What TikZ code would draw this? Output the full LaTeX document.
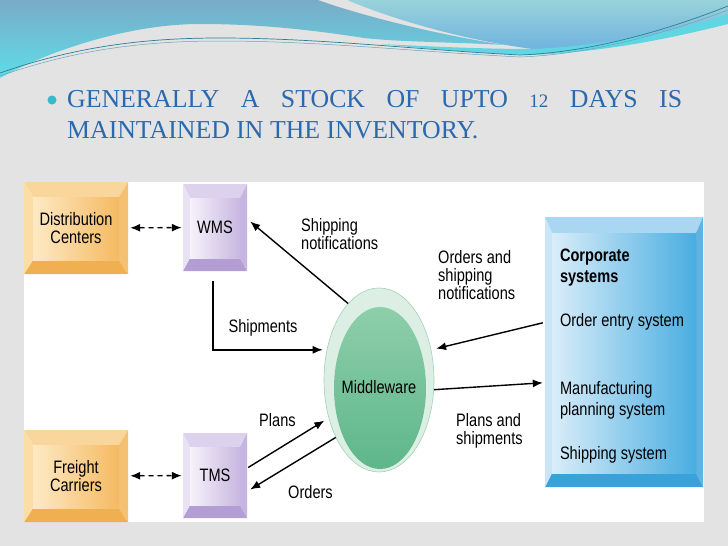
\documentclass[tikz,border=0pt]{standalone}
\usepackage{fontspec}
\setmainfont{Liberation Serif}
\newfontfamily\diagfont[FakeStretch=0.81]{Liberation Sans}
\usetikzlibrary{arrows.meta,calc,shapes.geometric}

\definecolor{bggray}{HTML}{E3E3E3}
\definecolor{titleblue}{HTML}{2B68AE}
\definecolor{bulletcyan}{HTML}{35BCCB}
\definecolor{waveblue}{HTML}{79ABC7}
\definecolor{wavecyan}{HTML}{5EDDE8}
\definecolor{wavelight}{HTML}{98D2DA}
\definecolor{wavedeep}{HTML}{6FB3DF}
\definecolor{waveline}{HTML}{2C7D98}
% keycap colours: top, left, right, bottom bevel, face low / high
\definecolor{dc-top}{HTML}{F9D69B}\definecolor{dc-left}{HTML}{FBDDA6}
\definecolor{dc-right}{HTML}{F4C172}\definecolor{dc-bot}{HTML}{F0B052}
\definecolor{dc-lo}{HTML}{FDE9C4}\definecolor{dc-hi}{HTML}{F5BA62}
\definecolor{sys-top}{HTML}{DCD2EE}\definecolor{sys-left}{HTML}{E8E2F4}
\definecolor{sys-right}{HTML}{C6B5E0}\definecolor{sys-bot}{HTML}{B49DD4}
\definecolor{sys-lo}{HTML}{F5F2FB}\definecolor{sys-hi}{HTML}{C8B7E0}
\definecolor{corp-top}{HTML}{A9D7F1}\definecolor{corp-left}{HTML}{C9E5F6}
\definecolor{corp-right}{HTML}{5BB4E5}\definecolor{corp-bot}{HTML}{3AA2DB}
\definecolor{corp-lo}{HTML}{D9EDF9}\definecolor{corp-hi}{HTML}{49ADE1}
\definecolor{mw-ring}{HTML}{DDEFE4}\definecolor{mw-edge}{HTML}{9FD3B5}
\definecolor{mw-lo}{HTML}{94D1AE}\definecolor{mw-hi}{HTML}{5DB68A}

\tikzset{
  bevel top/.initial=14, bevel side/.initial=7, bevel bottom/.initial=13,
  keycap/.style={font=\diagfont\fontsize{18}{18}\selectfont, align=center,
    path picture={
      \def\bt{\pgfkeysvalueof{/tikz/bevel top}}
      \def\bs{\pgfkeysvalueof{/tikz/bevel side}}
      \def\bb{\pgfkeysvalueof{/tikz/bevel bottom}}
      \coordinate (nw) at (path picture bounding box.north west);
      \coordinate (se) at (path picture bounding box.south east);
      \fill[#1-top] (nw) -- (nw -| se) -- ($(nw -| se)+(-\bs,\bt)$) -- ($(nw)+(\bs,\bt)$) -- cycle;
      \fill[#1-bot] (nw |- se) -- (se) -- ($(se)+(-\bs,-\bb)$) -- ($(nw |- se)+(\bs,-\bb)$) -- cycle;
      \fill[#1-left] (nw) -- ($(nw)+(\bs,\bt)$) -- ($(nw |- se)+(\bs,-\bb)$) -- (nw |- se) -- cycle;
      \fill[#1-right] (nw -| se) -- ($(nw -| se)+(-\bs,\bt)$) -- ($(se)+(-\bs,-\bb)$) -- (se) -- cycle;
      \shade[left color=#1-lo, right color=#1-hi] ($(nw)+(\bs,\bt)$) rectangle ($(se)+(-\bs,-\bb)$);
    }},
  flow/.style={line width=1.4pt, -{Latex[length=10pt,width=8pt]}},
  dflow/.style={line width=1.4pt, dash pattern=on 5pt off 4pt,
    {Latex[length=10pt,width=8pt]}-{Latex[length=10pt,width=8pt]}, shorten <=2pt, shorten >=1pt},
  lbl/.style={font=\diagfont\fontsize{18}{18}\selectfont, inner sep=0pt, align=left},
}

\begin{document}
\begin{tikzpicture}[x=1pt, y=-1pt]
  \useasboundingbox (0,0) rectangle (728,546);
  \fill[bggray] (0,0) rectangle (728,546);

  % wave at the top of the slide
  \shade[top color=waveblue, bottom color=wavecyan]
    (0,0) -- (318,0) .. controls (345,10) and (420,32) .. (505,45)
    .. controls (450,42) and (400,42) .. (364,38)
    .. controls (300,28) and (250,24) .. (200,24)
    .. controls (130,24) and (50,50) .. (0,78) -- cycle;
  \shade[top color=wavelight, bottom color=wavedeep]
    (347,0) -- (728,0) -- (728,18) .. controls (670,38) and (600,48) .. (540,50)
    .. controls (460,40) and (390,18) .. (347,0) -- cycle;
  \fill[wavecyan!85!waveblue]
    (380,44) .. controls (440,50) and (490,54) .. (530,55)
    .. controls (610,52) and (680,36) .. (728,24) -- (728,14)
    .. controls (680,30) and (610,46) .. (530,49)
    .. controls (490,49) and (440,47) .. (380,44) -- cycle;
  \draw[waveline, line width=0.7pt]
    (0,73) .. controls (80,45) and (150,38) .. (220,38)
    .. controls (320,38) and (420,50) .. (520,55)
    .. controls (600,52) and (680,25) .. (728,6);
  \draw[waveline!70, line width=0.5pt]
    (0,76) .. controls (80,48) and (150,41) .. (220,41)
    .. controls (320,41) and (420,52) .. (520,57)
    .. controls (600,54) and (680,28) .. (728,10);

  % title
  \fill[bulletcyan] (52,100) circle (4.5);
  \node[anchor=base west, inner sep=0pt, text=titleblue, font=\fontsize{25.8}{31}\selectfont] (line1)
    at (67,107.5) {\makebox[615pt][s]{GENERALLY A STOCK OF UPTO {\fontsize{19}{20}\selectfont 12} DAYS IS}};
  \node[anchor=base west, inner sep=0pt, text=titleblue, font=\fontsize{25.8}{31}\selectfont] (line2)
    at (67,138.5) {MAINTAINED IN THE INVENTORY.};

  % diagram
  \fill[white] (24,182) rectangle (704,522);

  \node[keycap=dc, bevel top=15, bevel side=9, bevel bottom=14,
        minimum width=104pt, minimum height=92pt, inner sep=0pt] (dc) at (76,228) {Distribution\\Centers};
  \node[keycap=dc, bevel top=15, bevel side=9, bevel bottom=14,
        minimum width=104pt, minimum height=92pt, inner sep=0pt] (fc) at (76,476) {Freight\\Carriers};
  \node[keycap=sys, minimum width=64pt, minimum height=87pt, inner sep=0pt] (wms) at (215,227.5) {WMS};
  \node[keycap=sys, minimum width=64pt, minimum height=85pt, inner sep=0pt] (tms) at (215,475.5) {TMS};
  \node[keycap=corp, bevel top=16, bevel side=7, bevel bottom=14,
        minimum width=158pt, minimum height=270pt, inner sep=0pt] (corp) at (624,352) {};

  \node[ellipse, minimum width=110pt, minimum height=184pt, fill=mw-ring, draw=mw-edge, line width=0.6pt,
        path picture={\shade[top color=mw-lo, bottom color=mw-hi]
          ($(path picture bounding box.center)+(1,8)$) ellipse [x radius=46, y radius=81];}] (mw) at (379,380) {};
  \node[lbl] (mwlabel) at ($(mw.center)+(0,7)$) {Middleware};

  \node[lbl, anchor=north west, font=\diagfont\bfseries\fontsize{18}{21}\selectfont] (corphead)
    at ($(corp.north west)+(15,32)$) {Corporate\\systems};
  \node[lbl, anchor=north west] (ordentry) at ($(corp.north west)+(15,96)$) {Order entry system};
  \node[lbl, anchor=north west, font=\diagfont\fontsize{18}{21}\selectfont] (mfgplan)
    at ($(corp.north west)+(15,164)$) {Manufacturing\\planning system};
  \node[lbl, anchor=north west] (shipsys) at ($(corp.north west)+(15,229)$) {Shipping system};

  \draw[dflow] (dc) -- (wms);
  \draw[dflow] (fc) -- (tms);

  \draw[flow] (mw.112) -- ($(wms.east)+(3,-6)$);
  \draw[flow, shorten >=4pt] ($(wms.south)+(-2,10)$) |- (mw.150);
  \draw[flow, shorten >=5pt] ($(corp.north west)+(-2,106)$) -- (mw.30);
  \draw[flow] (mw.-10) -- ($(corp.north west)+(-2,166)$);
  \draw[flow, shorten >=5pt] ($(tms.east)+(1,-8)$) -- (mw.217);
  \draw[flow] (mw.233) -- ($(tms.east)+(3,14)$);

  \node[lbl, anchor=north west] (shipnote) at (301,218) {Shipping\\notifications};
  \node[lbl, anchor=base] (shiptxt) at (263,332) {Shipments};
  \node[lbl, anchor=north west] (ordnote) at (438,250) {Orders and\\shipping\\notifications};
  \node[lbl, anchor=north west] (plansship) at (456,413) {Plans and\\shipments};
  \node[lbl, anchor=north west] (planstxt) at (259,413) {Plans};
  \node[lbl, anchor=north west] (orderstxt) at (288,485) {Orders};
\end{tikzpicture}
\end{document}
